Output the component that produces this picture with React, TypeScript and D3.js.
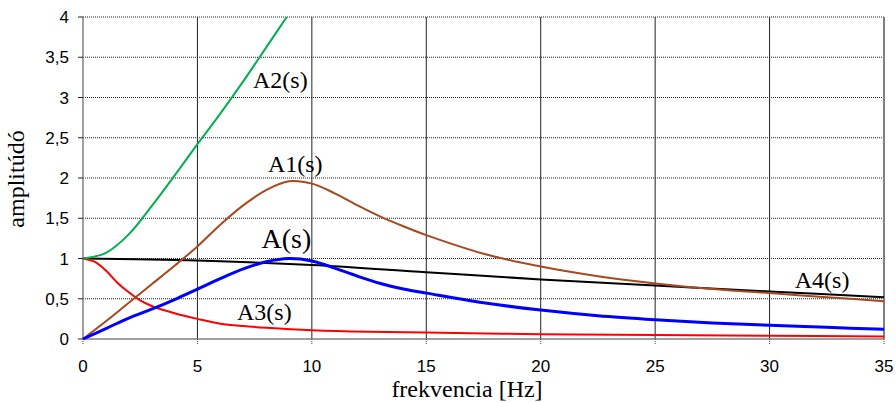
import React, { useEffect, useRef } from "react";
import * as d3 from "d3";

// frequency samples [Hz] and amplitudes
const freqA = [0, 1, 2, 3, 4, 5, 6, 7, 8, 9, 10, 11, 12, 13, 14, 15, 17.5, 20, 22.5, 25, 27.5, 30, 32.5, 35];
const ampA = [0, 0.13, 0.26, 0.37, 0.49, 0.62, 0.75, 0.87, 0.96, 1.0, 0.97, 0.88, 0.78, 0.69, 0.62, 0.57, 0.45, 0.36, 0.29, 0.24, 0.2, 0.17, 0.145, 0.12];

const freqA1 = [0, 1, 2, 3, 4, 5, 6, 7, 8, 9, 10, 11, 12, 13, 14, 15, 17.5, 20, 22.5, 25, 27.5, 30, 32.5, 35];
const ampA1 = [0, 0.22, 0.45, 0.68, 0.91, 1.15, 1.42, 1.66, 1.85, 1.96, 1.93, 1.81, 1.66, 1.52, 1.4, 1.29, 1.06, 0.9, 0.78, 0.69, 0.62, 0.57, 0.52, 0.47];

const freqA2 = [0, 1, 2, 3, 4, 5, 6, 7, 8, 8.9];
const ampA2 = [1, 1.07, 1.3, 1.65, 2.03, 2.42, 2.8, 3.2, 3.62, 4.0];

const freqA3 = [0, 0.5, 1, 1.5, 2, 2.5, 3, 4, 5, 6, 7, 8, 10, 12.5, 15, 20, 25, 30, 35];
const ampA3 = [1, 0.96, 0.85, 0.7, 0.58, 0.48, 0.41, 0.32, 0.25, 0.19, 0.16, 0.14, 0.11, 0.09, 0.08, 0.06, 0.05, 0.04, 0.03];

const freqA4 = [0, 5, 10, 15, 20, 25, 30, 35];
const ampA4 = [1, 0.975, 0.92, 0.83, 0.74, 0.665, 0.59, 0.52];

const xTicks = [0, 5, 10, 15, 20, 25, 30, 35];
const yTicks = [0, 0.5, 1, 1.5, 2, 2.5, 3, 3.5, 4];

const App = () => {
  const ref = useRef<SVGSVGElement>(null);

  useEffect(() => {
    const svg = d3.select(ref.current);
    svg.selectAll("*").remove();

    const x = d3.scaleLinear().domain([0, 35]).range([83, 884]);
    const y = d3.scaleLinear().domain([0, 4]).range([339, 17]);
    const fmt = (v: number) => String(v).replace(".", ",");

    // horizontal dotted grid
    svg.selectAll(".hgrid").data(yTicks.filter(d => d > 0)).join("line")
      .attr("x1", x(0)).attr("x2", x(35))
      .attr("y1", d => y(d)).attr("y2", d => y(d))
      .attr("stroke", "#222").attr("stroke-width", 1).attr("stroke-dasharray", "1,1");

    // vertical solid grid
    svg.selectAll(".vgrid").data(xTicks.filter(d => d > 0 && d < 35)).join("line")
      .attr("x1", d => x(d)).attr("x2", d => x(d))
      .attr("y1", y(4)).attr("y2", y(0))
      .attr("stroke", "#222").attr("stroke-width", 1);

    // axes / frame
    svg.append("line").attr("x1", x(0)).attr("x2", x(0)).attr("y1", y(4)).attr("y2", y(0))
      .attr("stroke", "#808080").attr("stroke-width", 1.5);
    svg.append("line").attr("x1", x(35)).attr("x2", x(35)).attr("y1", y(4)).attr("y2", y(0))
      .attr("stroke", "#808080").attr("stroke-width", 2);
    svg.append("line").attr("x1", x(0)).attr("x2", x(35)).attr("y1", y(0)).attr("y2", y(0))
      .attr("stroke", "#808080").attr("stroke-width", 1.5);

    // ticks
    svg.selectAll(".yt").data(yTicks).join("line")
      .attr("x1", x(0) - 5).attr("x2", x(0))
      .attr("y1", d => y(d)).attr("y2", d => y(d))
      .attr("stroke", "#222").attr("stroke-width", 1);
    svg.selectAll(".xt").data(xTicks).join("line")
      .attr("x1", d => x(d)).attr("x2", d => x(d))
      .attr("y1", y(0)).attr("y2", y(0) + 5)
      .attr("stroke", "#444").attr("stroke-width", 1).attr("stroke-dasharray", "1,1");

    // tick labels
    svg.selectAll(".yl").data(yTicks).join("text")
      .attr("x", x(0) - 14).attr("y", d => y(d)).attr("dy", "0.36em")
      .attr("text-anchor", "end")
      .style("font-family", "'Liberation Sans', Arial, sans-serif").style("font-size", "17px")
      .text(d => fmt(d));
    svg.selectAll(".xl").data(xTicks).join("text")
      .attr("x", d => x(d)).attr("y", y(0) + 27).attr("dy", "0.36em")
      .attr("text-anchor", "middle")
      .style("font-family", "'Liberation Sans', Arial, sans-serif").style("font-size", "17px")
      .text(d => fmt(d));

    // axis titles
    svg.append("text")
      .attr("transform", `translate(24, 179) rotate(-90)`)
      .attr("text-anchor", "middle")
      .style("font-family", "'Liberation Serif', 'Times New Roman', serif").style("font-size", "24px")
      .text("amplitúdó");
    svg.append("text")
      .attr("x", 467).attr("y", 397)
      .attr("text-anchor", "middle")
      .style("font-family", "'Liberation Serif', 'Times New Roman', serif").style("font-size", "24px")
      .text("frekvencia [Hz]");

    const line = d3.line<[number, number]>()
      .x(d => x(d[0])).y(d => y(d[1]))
      .curve(d3.curveCatmullRom.alpha(0.5));

    const series = [
      { f: freqA4, a: ampA4, color: "#000000", w: 2 },
      { f: freqA3, a: ampA3, color: "#ff0000", w: 2 },
      { f: freqA2, a: ampA2, color: "#00b050", w: 2 },
      { f: freqA1, a: ampA1, color: "#a5491f", w: 2 },
      { f: freqA, a: ampA, color: "#0000ff", w: 3 },
    ];
    series.forEach(s => {
      const pts = s.f.map((f, i) => [f, s.a[i]] as [number, number]);
      svg.append("path").attr("d", line(pts) as string)
        .attr("fill", "none").attr("stroke", s.color).attr("stroke-width", s.w);
    });

    // curve labels
    const labels = [
      { t: "A2(s)", f: 7.43, v: 3.12, size: 24 },
      { t: "A1(s)", f: 8.08, v: 2.07, size: 24 },
      { t: "A(s)", f: 7.8, v: 1.13, size: 28 },
      { t: "A3(s)", f: 6.73, v: 0.23, size: 24 },
      { t: "A4(s)", f: 31.1, v: 0.63, size: 24 },
    ];
    svg.selectAll(".lbl").data(labels).join("text")
      .attr("x", d => x(d.f)).attr("y", d => y(d.v))
      .style("font-family", "'Liberation Serif', 'Times New Roman', serif")
      .style("font-size", d => `${d.size}px`)
      .text(d => d.t);
  }, []);

  return (
    <svg ref={ref} width={896} height={403}
      style={{ position: "absolute", left: 0, top: 0, background: "#fff" }} />
  );
};

export default App;
